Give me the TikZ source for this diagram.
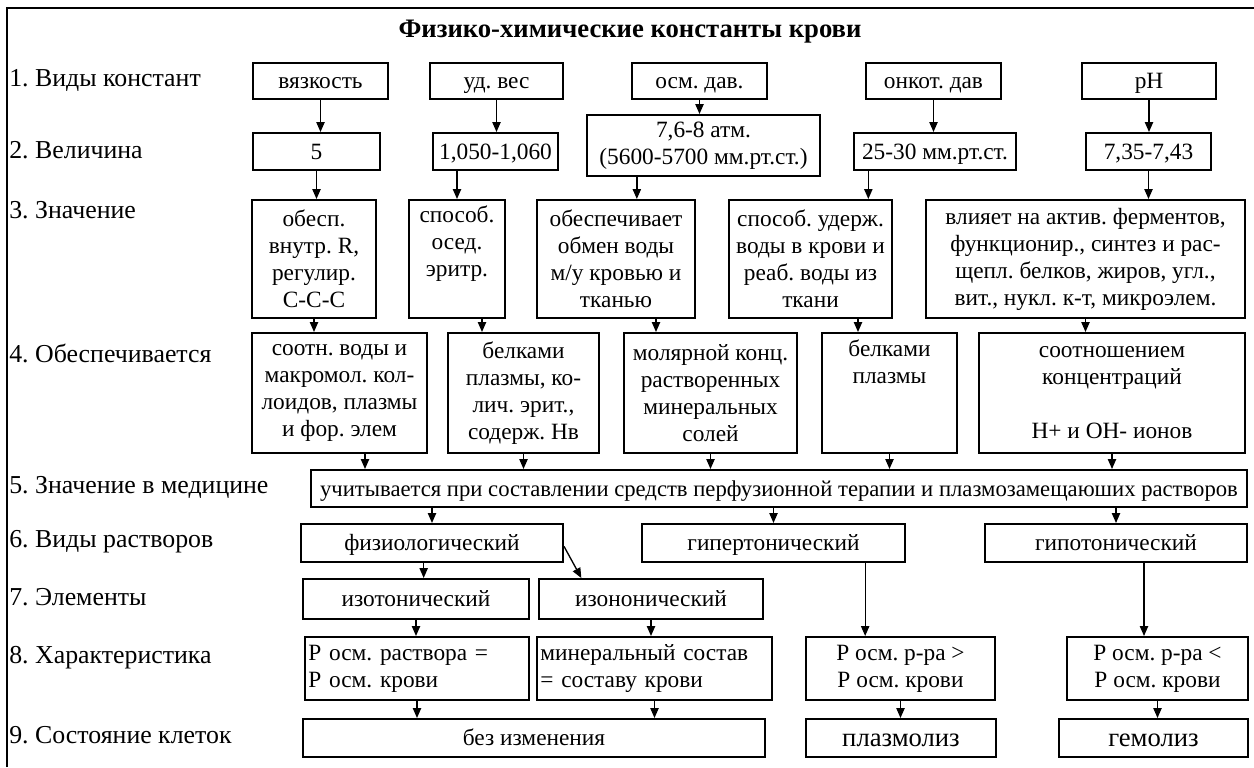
\documentclass[tikz,border=0pt]{standalone}
\usepackage{fontspec}
\setmainfont{Liberation Serif}
\usetikzlibrary{arrows.meta}
\frenchspacing
\tikzset{
	cell/.style={draw, line width=1.2pt, inner sep=2pt, align=center,
		font=\fontsize{14}{16.2}\selectfont},
	one/.style={text height=10pt, text depth=0.5pt},
	wh/.style 2 args={minimum width={#1*0.6pt}, minimum height={#2*0.6pt}},
	rowlabel/.style={anchor=west, inner sep=0pt, font=\fontsize{15.5}{18}\selectfont},
	arr/.style={-{Triangle[length=6pt, width=5pt]}, line width=0.8pt},
}
\begin{document}
\begin{tikzpicture}[x=0.6pt, y=-0.6pt]
	\useasboundingbox (0,0) rectangle (1254,767);
	\draw[line width=1.5pt] (7,767) -- (7,8) -- (1254,8);
	\node[font=\bfseries\fontsize{16}{19}\selectfont] (title) at (630,32) {Физико-химические константы крови};
	% row labels
	\foreach \y/\t [count=\i] in {80/Виды констант, 150/Величина, 210/Значение, 353/Обеспечивается,
		487/Значение в медицине, 542/Виды растворов, 597/Элементы, 658/Характеристика, 735/Состояние клеток}
	\node[rowlabel] (l\i) at (9,\y) {\i. \t};
	% row 1
	\node[cell, one, wh={135}{36}] (vyaz) at (320.5,81) {вязкость};
	\node[cell, one, wh={133}{36}] (udves) at (496.5,81) {уд. вес};
	\node[cell, one, wh={135}{36}] (osm) at (699.5,81) {осм. дав.};
	\node[cell, one, wh={135}{36}] (onkot) at (933.5,81) {онкот. дав};
	\node[cell, one, wh={134}{36}] (ph) at (1149,81) {pH};
	% row 2
	\node[cell, one, wh={127}{37}] (v5) at (316.5,151.5) {5};
	\node[cell, one, wh={125}{37}] (v1050) at (495.5,151.5) {1,050-1,060};
	\node[cell, wh={233}{61}] (v76) at (703.5,145.5) {7,6-8 атм.\\(5600-5700 мм.рт.ст.)};
	\node[cell, one, wh={162}{37}] (v2530) at (935,151.5) {25-30 мм.рт.ст.};
	\node[cell, one, wh={125}{37}] (v735) at (1148.5,151.5) {7,35-7,43};
	% row 3
	\node[cell, wh={124}{118}] (obesp) at (314,259) {обесп.\\внутр. R,\\регулир.\\С-С-С};
	\node[cell, wh={96}{118}] (sposob) at (457,259) {способ.\\осед.\\эритр.\\ \strut};
	\node[cell, wh={158}{118}] (obmen) at (616,259) {обеспечивает\\обмен воды\\м/у кровью и\\тканью};
	\node[cell, wh={163}{118}] (uderzh) at (810.5,259) {способ. удерж.\\воды в крови и\\реаб. воды из\\ткани};
	\node[cell, wh={319}{118}] (vliyaet) at (1085.5,259) {влияет на актив. ферментов,\\функционир., синтез и рас-\\щепл. белков, жиров, угл.,\\вит., нукл. к-т, микроэлем.};
	% row 4
	\node[cell, wh={175}{120}] (sootn) at (339.5,393) {соотн. воды и\\макромол. кол-\\лоидов, плазмы\\и фор. элем};
	\node[cell, wh={151}{120}] (belk) at (523.5,393) {белками\\плазмы, ко-\\лич. эрит.,\\содерж. Нв};
	\node[cell, wh={173}{120}] (molyar) at (710.5,393) {молярной конц.\\растворенных\\минеральных\\солей};
	\node[cell, wh={135}{120}] (belkpl) at (889.5,393) {белками\\плазмы\\ \strut\\ \strut};
	\node[cell, wh={266}{120}] (sootnosh) at (1112,393) {соотношением\\концентраций\\ \strut\\H+ и OH- ионов};
	% row 5
	\node[cell, one, wh={936}{37}, font=\fontsize{13.6}{16}\selectfont] (uchit) at (779,488.5) {учитывается при составлении средств перфузионной терапии и плазмозамещаюших растворов};
	% row 6
	\node[cell, one, wh={262}{38}] (fiziol) at (432,543) {физиологический};
	\node[cell, one, wh={263}{38}] (hyper) at (773.5,543) {гипертонический};
	\node[cell, one, wh={262}{38}] (hypo) at (1116,543) {гипотонический};
	% row 7
	\node[cell, one, wh={226}{40}] (izoton) at (416,599) {изотонический};
	\node[cell, one, wh={224}{40}] (izonon) at (651,599) {изононический};
	% row 8
	\node[cell, wh={224}{63}, align=left, text width=130.4pt] (Peq) at (417,668.5) {Р осм. раствора =\\Р осм. крови};
	\node[cell, wh={235}{63}, align=left, text width=137pt] (miner) at (654.5,668.5) {минеральный состав\\= составу крови};
	\node[cell, wh={189}{63}] (Pgt) at (900.5,668.5) {Р осм. р-ра >\\Р осм. крови};
	\node[cell, wh={181}{63}] (Plt) at (1157.5,668.5) {Р осм. р-ра <\\Р осм. крови};
	% row 9
	\node[cell, one, wh={462}{38}] (bezizm) at (534,738) {без изменения};
	\node[cell, one, wh={190}{38}, font=\fontsize{16}{19}\selectfont, text height=11pt] (plazm) at (901,738) {плазмолиз};
	\node[cell, one, wh={189}{38}, font=\fontsize{16}{19}\selectfont, text height=11pt] (hemol) at (1153.5,738) {гемолиз};
	% arrows
	\foreach \a/\b in {vyaz/v5, udves/v1050, osm/v76, onkot/v2530, ph/v735, v5/obesp, v735/vliyaet,
		obesp/sootn, vliyaet/sootnosh, belk/uchit, molyar/uchit, belkpl/uchit, sootnosh/uchit,
		izoton/Peq, izonon/miner, Peq/bezizm, miner/bezizm, Pgt/plazm, Plt/hemol}
	\draw[arr] (\a) -- (\a |- \b.north);
	\foreach \a/\s/\b in {v76/-40/obmen, v2530/-40/uderzh, sposob/15/belk, obmen/24/molyar,
		uderzh/28.5/belkpl, sootn/15.3/uchit, fiziol/-5/izoton, hyper/55/Pgt, hypo/16.8/Plt}
	\draw[arr] ([xshift=\s pt]\a.south) -- ([xshift=\s pt]\b.north -| \a.south);
	\draw[arr] (v1050.south -| sposob) -- (sposob);
	\foreach \b in {fiziol, hyper, hypo}
	\draw[arr] (uchit.south -| \b) -- (\b);
	\draw[arr] ([yshift=-2pt]fiziol.east) -- ([xshift=26pt]izonon.north west);
\end{tikzpicture}
\end{document}
